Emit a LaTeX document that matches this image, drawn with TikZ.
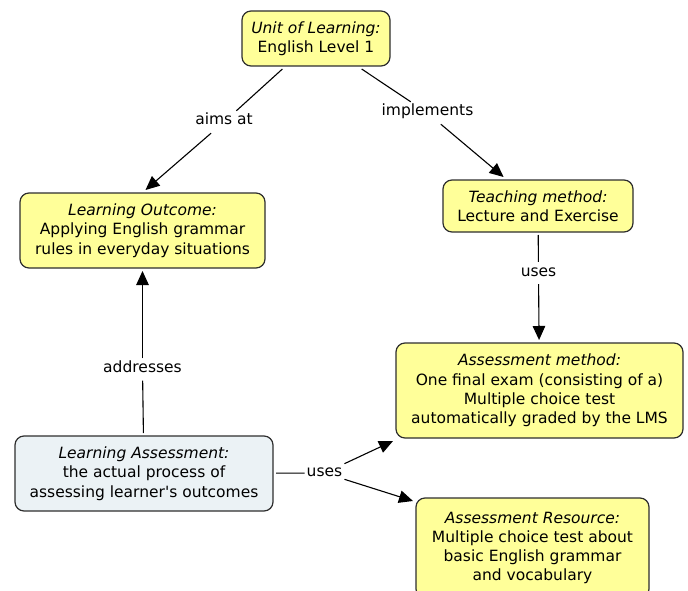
\documentclass[tikz,border=0pt]{standalone}
\usepackage{fontspec}
\setmainfont{DejaVu Sans}[Ligatures=TeXOff]
\usepackage{xcolor}
\usepackage{tikz}
\usetikzlibrary{arrows.meta,positioning}

\definecolor{conceptfill}{HTML}{FFFF99}
\definecolor{assessfill}{HTML}{EBF2F5}
\definecolor{conceptline}{HTML}{2E2E2E}

\begin{document}
\begin{tikzpicture}[
    x=1pt, y=-1pt,
    font=\fontsize{15.5}{19.3}\selectfont,
    box/.style={rectangle, draw=conceptline, line width=1.2pt, fill=conceptfill, align=center, rounded corners=9pt, outer sep=3pt, inner sep=0pt},
    link/.style={inner xsep=2pt, inner ysep=5pt, text height=9pt, text depth=3pt},
    line/.style={draw=black, line width=1.1pt},
    arrow/.style={line, -{Triangle[length=14pt, width=12.5pt]}}
]
\useasboundingbox (0,0) rectangle (688,591);

\node[box, minimum width=148pt, minimum height=55pt] (unit) at (316,38.5) {\itshape Unit of Learning:\\English Level 1};
\node[box, minimum width=245pt, minimum height=75pt] (outcome) at (142.5,230.5) {\itshape Learning Outcome:\\Applying English grammar\\rules in everyday situations};
\node[box, minimum width=190pt, minimum height=52pt] (teaching) at (538,206) {\itshape Teaching method:\\Lecture and Exercise};
\node[box, minimum width=287pt, minimum height=95pt] (amethod) at (539.5,390.5) {\itshape Assessment method:\\One final exam (consisting of a)\\Multiple choice test\\automatically graded by the LMS};
\node[box, fill=assessfill, minimum width=258pt, minimum height=75pt] (lassess) at (144,473.5) {\itshape Learning Assessment:\\the actual process of\\assessing learner's outcomes};
\node[box, minimum width=233pt, minimum height=100pt] (aresource) at (532.5,548) {\itshape Assessment Resource:\\Multiple choice test about\\basic English grammar\\and vocabulary};

% link phrases
\node[link] (aimsat) at (224,122) {aims at};
\node[link] (implements) at (427.5,113) {implements};
\node[link] (usesmethod) at (538.5,273) {uses};
\node[link] (addresses) at (142.5,369.5) {addresses};
\node[link] (usesresource) at (324.5,473) {uses};

\draw[line] (unit) -- (aimsat);
\draw[arrow] (aimsat) -- ([xshift=3pt]outcome.north);
\draw[line] (unit) -- (implements);
\draw[arrow] (implements) -- (teaching);
\draw[line] (teaching) -- (usesmethod);
\draw[arrow] (usesmethod) -- (amethod);
\draw[line] (lassess) -- (addresses);
\draw[arrow] (addresses) -- (outcome);
\draw[line] (lassess) -- (usesresource);
\draw[arrow] (usesresource) -- (amethod.south west);
\draw[arrow] (usesresource) -- ([yshift=-6pt]aresource.north west);

\end{tikzpicture}
\end{document}
